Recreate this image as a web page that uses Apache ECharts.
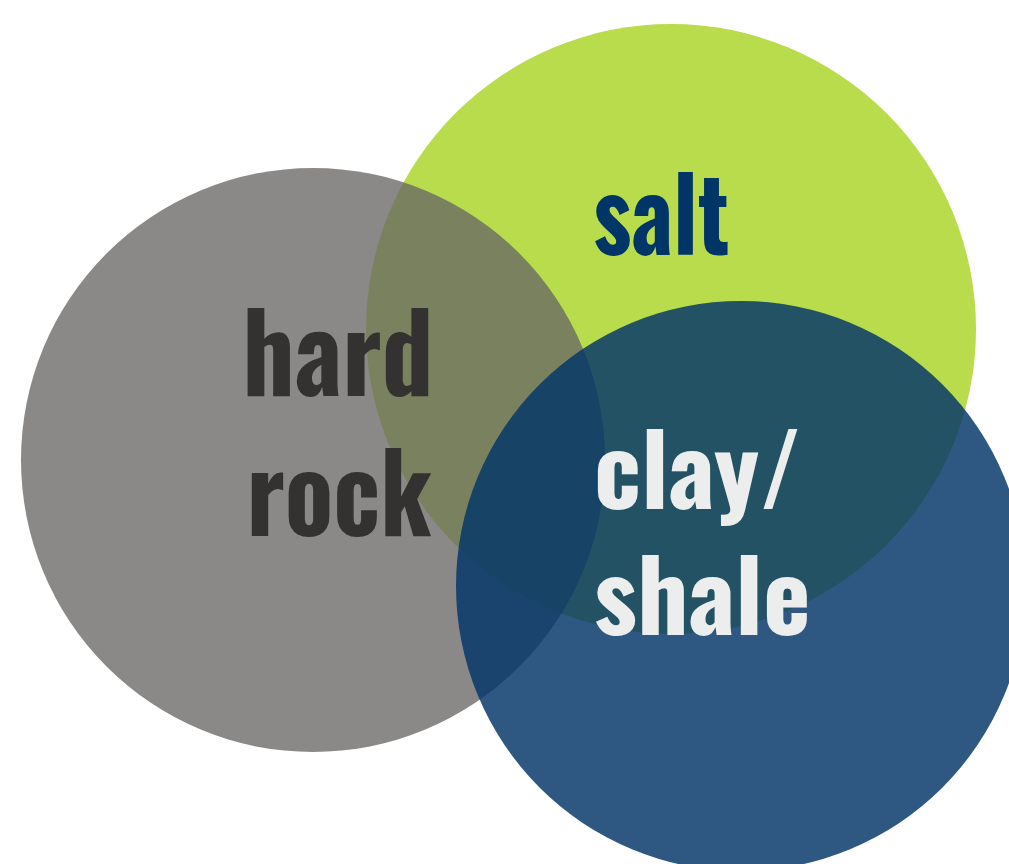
<!DOCTYPE html>
<html>
<head>
<meta charset="utf-8">
<script src="https://cdn.jsdelivr.net/npm/echarts@6/dist/echarts.min.js"></script>
<style>
html,body{margin:0;padding:0;background:#fff;}
#chart{width:1009px;height:864px;}
</style>
</head>
<body>
<div id="chart"></div>
<script>
// ---- data ----
const setNames = ['salt', 'hard rock', 'clay/shale'];
const centerX  = [671, 313, 741];
const centerY  = [329, 460, 586];
const radius   = [305, 292, 285];

// ---- label lines ----
const labelText = ['salt', 'hard', 'rock', 'clay/', 'shale'];
const labelSet  = [0, 1, 1, 2, 2];

// ---- layout / style ----
const labelLeft     = [595, 247, 251, 597, 595];
const labelBaseline = [255, 397, 537, 509, 635];
const labelWidth    = [133, 182, 181, 201, 212];
const labelAscender = [82, 88, 88, 80, 80];
const fillColors = ['rgb(184,220,75)', 'rgba(104,103,101,0.775)', 'rgba(4,54,105,0.83)'];
const textColors = ['#003567', '#333230', '#eceeed'];
const FONT = "'Oswald','Liberation Sans Narrow','Roboto Condensed','DejaVu Sans Condensed',sans-serif";

const mctx = document.createElement('canvas').getContext('2d');
function measure(text, fs) {
  mctx.font = 'bold ' + fs + 'px ' + FONT;
  mctx.textBaseline = 'alphabetic';
  return mctx.measureText(text);
}
const labelLayout = labelText.map((t, i) => {
  const h = measure('h', 100);
  const fs = labelAscender[i] / h.actualBoundingBoxAscent * 100;
  const m = measure(t, fs);
  const ink = m.actualBoundingBoxLeft + m.actualBoundingBoxRight;
  const sx = labelWidth[i] / ink;
  mctx.textBaseline = 'middle';
  const hm = mctx.measureText('h');
  const baseOff = hm.actualBoundingBoxDescent;
  return { fs, sx, left: m.actualBoundingBoxLeft * sx, baseOff };
});

const chart = echarts.init(document.getElementById('chart'), null, { renderer: 'canvas' });
chart.setOption({
  animation: false,
  backgroundColor: '#ffffff',
  grid: { left: 0, right: 0, top: 0, bottom: 0 },
  xAxis: { type: 'value', min: 0, max: 1009, show: false },
  yAxis: { type: 'value', min: 0, max: 864, inverse: true, show: false },
  series: [
    {
      type: 'custom',
      name: 'sets',
      clip: false,
      data: setNames.map((n, i) => [centerX[i], centerY[i], radius[i]]),
      renderItem: function (params, api) {
        const i = params.dataIndex;
        const c = api.coord([api.value(0), api.value(1)]);
        const r = api.size([api.value(2), 0])[0];
        return {
          type: 'circle',
          shape: { cx: c[0], cy: c[1], r: r },
          style: { fill: fillColors[i], stroke: null }
        };
      }
    },
    {
      type: 'custom',
      name: 'labels',
      clip: false,
      z: 10,
      data: labelText.map((t, i) => [labelLeft[i], labelBaseline[i]]),
      renderItem: function (params, api) {
        const i = params.dataIndex;
        const L = labelLayout[i];
        const p = api.coord([api.value(0), api.value(1)]);
        return {
          type: 'text',
          x: p[0] + L.left,
          y: p[1] - L.baseOff,
          scaleX: L.sx,
          style: {
            text: labelText[i],
            fill: textColors[labelSet[i]],
            fontSize: L.fs,
            fontWeight: 'bold',
            fontFamily: FONT,
            align: 'left',
            verticalAlign: 'middle'
          }
        };
      }
    }
  ]
});
</script>
</body>
</html>
